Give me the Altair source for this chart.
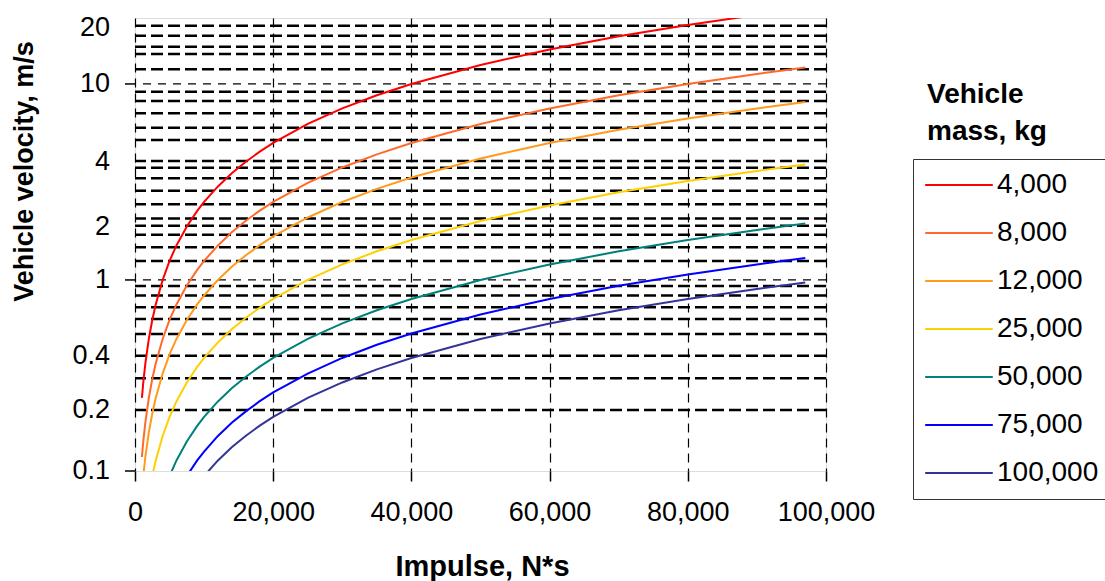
import altair as alt
import pandas as pd

# ---- data ----
impulse = [1000, 1200, 1500, 2000, 2500, 3000, 4000, 5000, 6000, 7500, 9000,
           10000, 12000, 14000, 16000, 18000, 20000, 25000, 30000, 35000,
           40000, 50000, 60000, 70000, 80000, 90000, 97000]

masses = ["4,000", "8,000", "12,000", "25,000", "50,000", "75,000", "100,000"]
colors = ["#FF0000", "#FF6A2A", "#FF9A1A", "#FFD000", "#00807A", "#0000FF", "#333399"]

v_4000 = [0.25, 0.3, 0.375, 0.5, 0.625, 0.75, 1.0, 1.25, 1.5, 1.875, 2.25,
          2.5, 3.0, 3.5, 4.0, 4.5, 5.0, 6.25, 7.5, 8.75,
          10.0, 12.5, 15.0, 17.5, 20.0, 22.5, 24.25]
v_8000 = [0.125, 0.15, 0.1875, 0.25, 0.3125, 0.375, 0.5, 0.625, 0.75, 0.9375, 1.125,
          1.25, 1.5, 1.75, 2.0, 2.25, 2.5, 3.125, 3.75, 4.375,
          5.0, 6.25, 7.5, 8.75, 10.0, 11.25, 12.125]
v_12000 = [None, 0.1, 0.125, 0.167, 0.208, 0.25, 0.333, 0.417, 0.5, 0.625, 0.75,
           0.833, 1.0, 1.167, 1.333, 1.5, 1.667, 2.083, 2.5, 2.917,
           3.333, 4.167, 5.0, 5.833, 6.667, 7.5, 8.083]
v_25000 = [None, None, None, None, 0.1, 0.12, 0.16, 0.2, 0.24, 0.3, 0.36,
           0.4, 0.48, 0.56, 0.64, 0.72, 0.8, 1.0, 1.2, 1.4,
           1.6, 2.0, 2.4, 2.8, 3.2, 3.6, 3.88]
v_50000 = [None, None, None, None, None, None, None, 0.1, 0.12, 0.15, 0.18,
           0.2, 0.24, 0.28, 0.32, 0.36, 0.4, 0.5, 0.6, 0.7,
           0.8, 1.0, 1.2, 1.4, 1.6, 1.8, 1.94]
v_75000 = [None, None, None, None, None, None, None, None, None, 0.1, 0.12,
           0.133, 0.16, 0.187, 0.213, 0.24, 0.267, 0.333, 0.4, 0.467,
           0.533, 0.667, 0.8, 0.933, 1.067, 1.2, 1.293]
v_100000 = [None, None, None, None, None, None, None, None, None, None, None,
            0.1, 0.12, 0.14, 0.16, 0.18, 0.2, 0.25, 0.3, 0.35,
            0.4, 0.5, 0.6, 0.7, 0.8, 0.9, 0.97]

series = [v_4000, v_8000, v_12000, v_25000, v_50000, v_75000, v_100000]

# y-axis labels and where they sit on the (log) velocity axis, as read
y_label_text = ["0.1", "0.2", "0.4", "1", "2", "4", "10", "20"]
y_label_pos = [0.106, 0.217, 0.411, 1.0, 1.864, 4.0, 10.0, 19.3]
# dashed gridlines
grid_minor = [0.217, 0.315, 0.411, 0.530, 0.633, 0.726, 0.832, 0.932,
              1.25, 1.47, 1.70, 1.89, 2.06, 2.43, 2.85, 3.30, 3.74, 4.05,
              5.18, 5.98, 7.09, 8.19, 9.13,
              11.9, 14.2, 15.5, 17.6, 19.8]
grid_major = [1, 10]
major_ticks = [0.106, 1, 10]
x_ticks = [0, 20000, 40000, 60000, 80000, 100000]

legend_title = ["Vehicle", "mass, kg"]
x_title = "Impulse, N*s"
y_title = "Vehicle velocity, m/s"

# ---- tables ----
rows = []
for m, vals in zip(masses, series):
    for i, v in zip(impulse, vals):
        if v is not None:
            rows.append({"impulse": i, "velocity": v, "mass": m})
df = pd.DataFrame(rows)
labels_df = pd.DataFrame({"velocity": y_label_pos, "label": y_label_text})

FONT = "Liberation Sans"
yscale = alt.Scale(type="log", domain=[0.106, 21.7], nice=False)
xscale = alt.Scale(domain=[0, 100000], nice=False)

y_axis = alt.Axis(labels=False, ticks=False, domain=False, grid=False,
                  title=y_title, titleFontSize=27, titleFontWeight="bold",
                  titleColor="black", titleFont=FONT, titleAngle=270,
                  titleX=-103, titleY=153, titleAlign="center",
                  titleBaseline="alphabetic")
x_axis = alt.Axis(values=x_ticks, format=",d", tickSize=10, tickColor="black",
                  tickWidth=1.5, domain=False, grid=True, gridColor="black",
                  gridDash=[9, 6], gridWidth=1.2, gridOpacity=1,
                  labelFontSize=27, labelColor="black", labelPadding=18,
                  labelOverlap=False, labelFlush=False, labelFont=FONT,
                  title=x_title, titleFontSize=29, titleFontWeight="bold",
                  titleColor="black", titleFont=FONT, titleX=347, titleY=104,
                  titleAlign="center", titleBaseline="alphabetic")

Y = alt.Y("velocity:Q", scale=yscale, axis=y_axis)

minor = alt.Chart(pd.DataFrame({"velocity": grid_minor})).mark_rule(
    color="black", strokeWidth=2.5, strokeDash=[12, 5]
).encode(y=Y)

major = alt.Chart(pd.DataFrame({"velocity": grid_major})).mark_rule(
    color="black", strokeWidth=1.2, strokeDash=[8, 7]
).encode(y=Y)

ticks = alt.Chart(pd.DataFrame({"velocity": major_ticks})).mark_rule(
    color="black", strokeWidth=1.5
).encode(y=Y, x=alt.value(-10), x2=alt.value(0))

ylabels = alt.Chart(labels_df).mark_text(
    align="right", baseline="middle", fontSize=27, font=FONT, color="black"
).encode(y=Y, x=alt.value(-25), text="label:N")

lines = alt.Chart(df).mark_line(strokeWidth=2, clip=True).encode(
    x=alt.X("impulse:Q", scale=xscale, axis=x_axis),
    y=Y,
    color=alt.Color("mass:N", scale=alt.Scale(domain=masses, range=colors),
                    sort=masses,
                    legend=alt.Legend(title=None, orient="none", legendX=778,
                                      legendY=141, strokeColor="#333333",
                                      padding=12, symbolType="M-2.6,0H2.6",
                                      symbolSize=676, symbolStrokeWidth=2,
                                      symbolOffset=20,
                                      labelFontSize=28, labelFont=FONT,
                                      labelColor="black", labelOffset=24,
                                      rowPadding=20)),
    detail="mass:N",
)

ltitle = alt.Chart(alt.Data(values=[{}])).mark_text(
    text=legend_title, font=FONT, fontSize=28, fontWeight="bold",
    align="left", baseline="alphabetic", lineHeight=37, color="black"
).encode(x=alt.value(792), y=alt.value(85))

chart = alt.layer(minor, major, ticks, ylabels, lines, ltitle).properties(
    width=691, height=453,
    autosize=alt.AutoSizeParams(type="none"),
    padding={"left": 135, "top": 18, "right": 279, "bottom": 110},
    background="white",
).configure_view(stroke="black", strokeWidth=2.5).configure(font=FONT)

chart.save("out.html", embed_options={"renderer": "svg", "actions": False})
